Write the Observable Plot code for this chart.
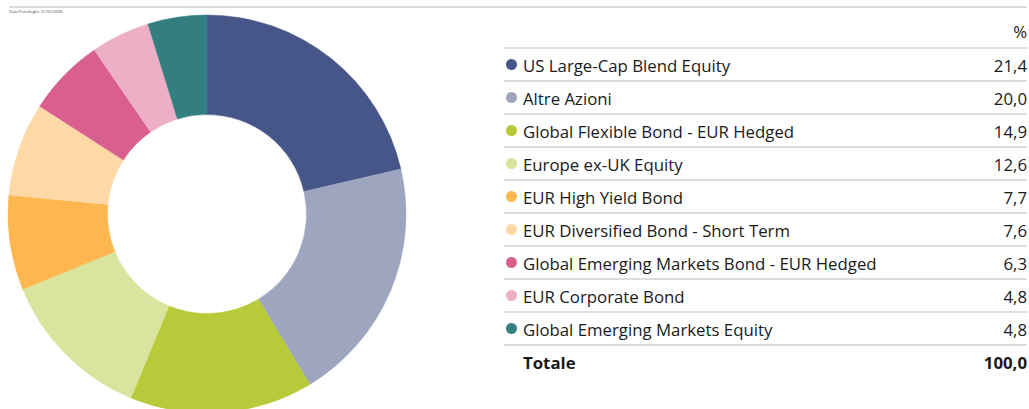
<!DOCTYPE html>
<html>
<head>
<meta charset="utf-8">
<script src="https://cdn.jsdelivr.net/npm/d3@7"></script>
<script src="https://cdn.jsdelivr.net/npm/@observablehq/plot@0.6"></script>
<style>
  html, body { margin: 0; padding: 0; background: #fff; overflow: hidden; }
  #wrap { position: relative; width: 1029px; height: 409px; font-family: "Open Sans", "Noto Sans", sans-serif; color: #1a1a1a; }
  #topline { position: absolute; left: 9px; top: 6px; width: 1018px; height: 2px; background: #dcdcdc; }
  #date { position: absolute; left: 9px; top: 9px; font-size: 4px; color: #444; white-space: nowrap; }
  #chart { position: absolute; left: 0; top: 0; }
  #table { position: absolute; left: 504px; top: 14px; width: 523px; }
  .row { position: relative; height: 33px; box-sizing: border-box; font-size: 16.8px; }
  .row.sep { border-top: 2px solid #dddddd; }
  .row .lab { position: absolute; left: 19px; top: 50%; transform: translateY(-50%); white-space: nowrap; }
  .row .val { position: absolute; right: 0; top: 50%; transform: translateY(-50%); white-space: nowrap; }
  .row .dot { position: absolute; left: 2px; top: 50%; width: 11px; height: 11px; margin-top: -5.5px; border-radius: 50%; }
  .row.total { font-weight: 700; }
</style>
</head>
<body>
<div id="wrap">
  <div id="topline"></div>
  <div id="date">Data Portafoglio: 31/01/2026</div>
  <div id="chart"></div>
  <div id="table"></div>
</div>
<script>
const categories = [
  "US Large-Cap Blend Equity",
  "Altre Azioni",
  "Global Flexible Bond - EUR Hedged",
  "Europe ex-UK Equity",
  "EUR High Yield Bond",
  "EUR Diversified Bond - Short Term",
  "Global Emerging Markets Bond - EUR Hedged",
  "EUR Corporate Bond",
  "Global Emerging Markets Equity"
];
const shares = [21.4, 20.0, 14.9, 12.6, 7.7, 7.6, 6.3, 4.8, 4.8];
const colors = ["#465689", "#9ea6bf", "#b8ca3a", "#d9e49f", "#feb74e", "#fed9a6", "#d95f8e", "#edafc6", "#337e80"];
const headerLabel = "%";
const totalLabel = "Totale";
const totalValue = 100.0;

const fmt = v => v.toFixed(1).replace(".", ",");
const data = categories.map((name, i) => ({name, share: shares[i]}));

const donut = Plot.plot({
  width: 414,
  height: 409,
  margin: 0,
  x: {domain: [-1, 1], range: [8, 406], axis: null},
  y: {domain: [1, -1], range: [15, 413], axis: null},
  color: {domain: categories, range: colors},
  marks: [
    Plot.dot(data, {
      x: 0, y: 0, fill: "name",
      render(index, scales, values) {
        const cx = scales.x(0), cy = scales.y(0);
        const R = scales.x(1) - cx, r = R * 0.5;
        const arcs = d3.pie().sort(null).value(i => data[i].share)(index);
        const arc = d3.arc().innerRadius(r).outerRadius(R);
        const g = d3.create("svg:g").attr("transform", `translate(${cx},${cy})`);
        g.selectAll("path").data(arcs).join("path")
          .attr("d", arc)
          .attr("fill", d => values.fill[d.data])
          .attr("stroke", d => values.fill[d.data])
          .attr("stroke-width", 0.5);
        return g.node();
      }
    })
  ]
});
document.getElementById("chart").appendChild(donut);

const table = document.getElementById("table");
const head = document.createElement("div");
head.className = "row";
head.innerHTML = `<span class="val">${headerLabel}</span>`;
table.appendChild(head);
data.forEach((d, i) => {
  const row = document.createElement("div");
  row.className = "row sep";
  row.innerHTML = `<span class="dot" style="background:${colors[i]}"></span><span class="lab">${d.name}</span><span class="val">${fmt(d.share)}</span>`;
  table.appendChild(row);
});
const tot = document.createElement("div");
tot.className = "row sep total";
tot.innerHTML = `<span class="lab">${totalLabel}</span><span class="val">${fmt(totalValue)}</span>`;
table.appendChild(tot);
</script>
</body>
</html>
